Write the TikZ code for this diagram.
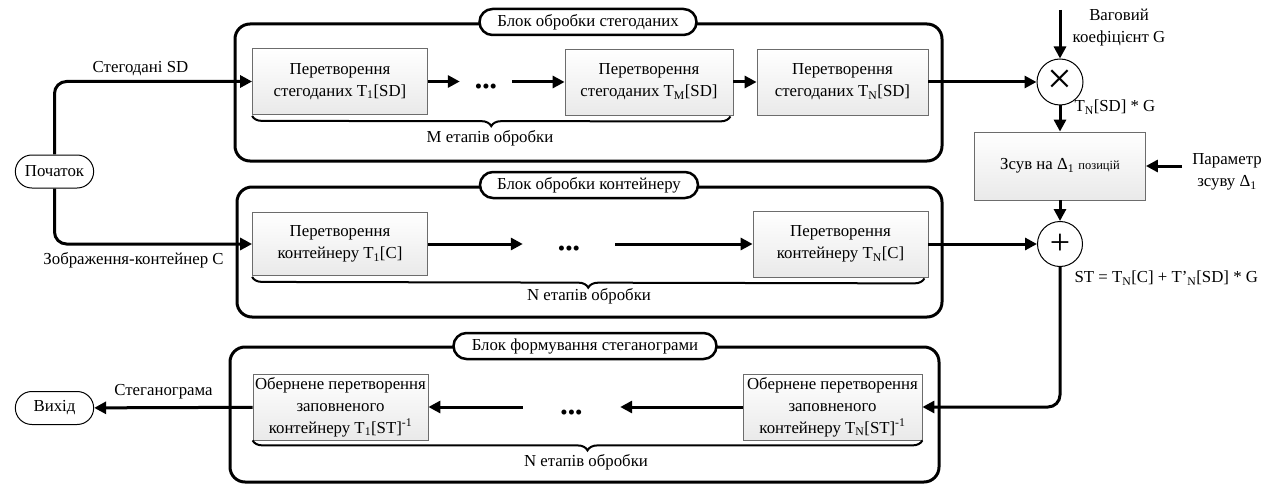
\documentclass[tikz,border=0pt]{standalone}
\usepackage{fontspec}
\setmainfont{Liberation Serif}
\usetikzlibrary{arrows.meta,decorations.pathreplacing,shapes.misc}

\begin{document}
\begin{tikzpicture}[x=1pt, y=-1pt, font=\fontsize{16.8}{22}\selectfont,
  flow/.style={line width=3pt, -{Triangle[length=12pt, width=12pt]}},
  stagebox/.style={draw=gray!85!black, line width=0.8pt, top color=white,
    bottom color=gray!17, align=center, inner sep=2pt,
    minimum width=175pt, minimum height=66pt},
  blockframe/.style={draw, line width=3pt, rounded corners=15pt},
  blocktitle/.style={draw, line width=2.5pt, fill=white, rounded rectangle,
    minimum height=26pt, inner xsep=2pt, inner ysep=2pt},
  terminal/.style={draw, line width=1pt, fill=white, rounded rectangle,
    minimum width=85pt, minimum height=33pt},
  opcircle/.style={draw, line width=1pt, circle, minimum size=46pt, inner sep=0pt},
  dotsnode/.style={font=\fontsize{21}{21}\selectfont, inner sep=0pt},
  stagebrace/.style={decorate, decoration={brace, amplitude=10pt, mirror},
    line width=2pt}]
  \useasboundingbox (0,0) rectangle (1274,484);

  % start and finish
  \node[terminal] (start) at (54.5,171.5) {Початок};
  \node[terminal] (finish) at (54.5,408) {Вихід};

  % block of stegodata
  \draw[blockframe] (235,24) rectangle (942,161);
  \node[blocktitle, minimum width=221pt] (sdtitle) at (588,22) {Блок обробки стегоданих};
  \node[stagebox] (a1) at (340,81.5) {Перетворення\\стегоданих T\textsubscript{1}[SD]};
  \node[dotsnode, minimum width=52pt] (adots) at (486,89) {\textbullet\textbullet\textbullet};
  \node[stagebox, minimum width=168pt] (aM) at (649,82) {Перетворення\\стегоданих T\textsubscript{M}[SD]};
  \node[stagebox, minimum width=171pt] (aN) at (842.5,82) {Перетворення\\стегоданих T\textsubscript{N}[SD]};
  \draw[flow] (a1) -- (a1 -| adots.west);
  \draw[flow] (adots.east |- aM) -- (aM);
  \draw[flow] (aM) -- (aN);
  \draw[stagebrace] ([yshift=-1pt]a1.south west) -- ([shift={(-3pt,-1pt)}]aM.south east);
  \node (amark) at (490,138) {M етапів обробки};

  % block of container
  \draw[blockframe] (237,187) rectangle (942,317);
  \node[blocktitle, minimum width=222pt] (ctitle) at (589,185) {Блок обробки контейнеру};
  \node[stagebox, minimum height=63pt] (b1) at (340,244) {Перетворення\\контейнеру T\textsubscript{1}[C]};
  \node[dotsnode, minimum width=92pt] (bdots) at (569,251) {\textbullet\textbullet\textbullet};
  \node[stagebox] (bN) at (840.5,244) {Перетворення\\контейнеру T\textsubscript{N}[C]};
  \draw[flow] (b1) -- (b1 -| bdots.west);
  \draw[flow] (bdots.east |- bN) -- (bN);
  \draw[stagebrace] ([yshift=-1pt]b1.south west) -- ([shift={(-4pt,-1pt)}]bN.south east);
  \node (bmark) at (589,296) {N етапів обробки};

  % weighting, shift and sum
  \node[opcircle] (mult) at (1060,82) {\fontsize{44}{44}\selectfont ×};
  \node[stagebox, minimum width=171pt, minimum height=68pt] (shift) at (1060,166)
    {Зсув на Δ\textsubscript{1} {\fontsize{12.5}{12.5}\selectfont позицій}};
  \node[opcircle, minimum size=45pt] (plus) at (1060,244) {\fontsize{36}{36}\selectfont +};
  \coordinate (gin) at (1060,10);
  \coordinate (din) at (1182,166);
  \node[align=center] (glabel) at (1119,28) {Ваговий\\коефіцієнт G};
  \node[align=center] (dlabel) at (1227,172) {Параметр\\зсуву Δ\textsubscript{1}};
  \node[anchor=west] (tglabel) at (1071,107) {T\textsubscript{N}[SD] * G};
  \node[anchor=west] (stlabel) at (1071,278) {ST = T\textsubscript{N}[C] + T’\textsubscript{N}[SD] * G};
  \draw[flow] (aN) -- (mult);
  \draw[flow] (gin) -- (mult);
  \draw[flow] (mult) -- (shift);
  \draw[flow] (din) -- (shift);
  \draw[flow] (shift) -- (plus);
  \draw[flow] (bN) -- (plus);

  % block of stegogram
  \draw[blockframe] (230,347) rectangle (939,482);
  \node[blocktitle, minimum width=267pt] (sttitle) at (585,346) {Блок формування стеганограми};
  \node[stagebox] (c1) at (340.5,407)
    {Обернене перетворення\\заповненого\\контейнеру T\textsubscript{1}[ST]\textsuperscript{-1}};
  \node[dotsnode, minimum width=97pt] (cdots) at (571.5,415) {\textbullet\textbullet\textbullet};
  \node[stagebox, minimum width=179pt] (cN) at (832.5,407)
    {Обернене перетворення\\заповненого\\контейнеру T\textsubscript{N}[ST]\textsuperscript{-1}};
  \draw[flow, rounded corners=12pt] (plus) |- (cN);
  \draw[flow] (cN) -- (cN -| cdots.east);
  \draw[flow] (cdots.west |- c1) -- (c1);
  \draw[stagebrace] (c1.south west) -- (cN.south east);
  \node (cmark) at (586,462) {N етапів обробки};

  % inputs and output
  \draw[flow, rounded corners=12pt] (start) |- (a1);
  \draw[flow, rounded corners=12pt] (start) |- (b1);
  \draw[flow] (c1) -- (finish);
  \node (sdlabel) at (140.5,69) {Стегодані SD};
  \node (clabel) at (133.5,260) {Зображення-контейнер C};
  \node (outlabel) at (163.5,392) {Стеганограма};
\end{tikzpicture}
\end{document}
